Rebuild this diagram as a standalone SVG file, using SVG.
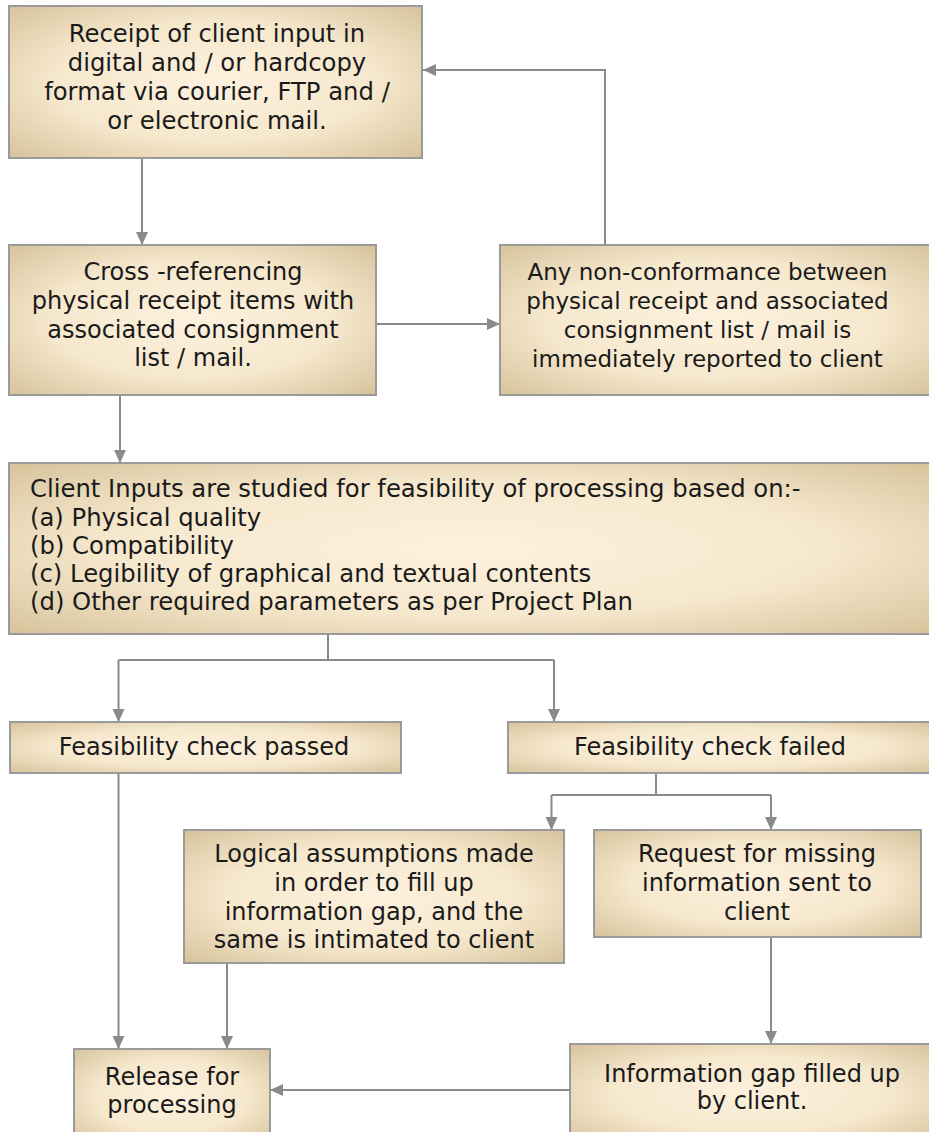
<svg xmlns="http://www.w3.org/2000/svg" width="929" height="1132" viewBox="0 0 929 1132">
<defs>
<radialGradient id="bg" cx="0.5" cy="0.5" r="0.7">
<stop offset="0" stop-color="#fdf1de"/>
<stop offset="0.55" stop-color="#f6e8cd"/>
<stop offset="1" stop-color="#d6c49c"/>
</radialGradient>
<marker id="ah" markerUnits="userSpaceOnUse" markerWidth="14" markerHeight="14" refX="13" refY="6" orient="auto">
<path d="M0,0 L13,6 L0,12 Z" fill="#8a8a8a"/>
</marker>
</defs>
<style>
.box{fill:url(#bg);stroke:#9a9a9a;stroke-width:2}
.t{font-family:"DejaVu Sans",Verdana,sans-serif;font-size:24px;fill:#1a1a1a}
.c{text-anchor:middle}
.ln{fill:none;stroke:#8a8a8a;stroke-width:2}
.ar{marker-end:url(#ah)}
</style>
<rect width="929" height="1132" fill="#fff"/>
<g id="connectors">
<path class="ln ar" d="M605,245 V70 H423"/>
<path class="ln ar" d="M142,158 V245"/>
<path class="ln ar" d="M376,324 H500"/>
<path class="ln ar" d="M120,395 V463"/>
<path class="ln" d="M328,634 V660 M118.5,660 H554"/>
<path class="ln ar" d="M118.5,660 V722"/>
<path class="ln ar" d="M554,660 V722"/>
<path class="ln" d="M656,773 V795 M551.5,795 H771"/>
<path class="ln ar" d="M551.5,795 V830"/>
<path class="ln ar" d="M771,795 V830"/>
<path class="ln ar" d="M118.5,773 V1049"/>
<path class="ln ar" d="M227,963 V1049"/>
<path class="ln ar" d="M771,937 V1044"/>
<path class="ln ar" d="M570,1090 H270"/>
</g>
<g id="n1">
<rect class="box" x="9" y="6" width="413" height="152"/>
<text class="t c" x="217" y="42" style="font-size:24.3px">Receipt of client input in</text>
<text class="t c" x="217" y="71" style="font-size:24.3px">digital and / or hardcopy</text>
<text class="t c" x="217" y="100" style="font-size:24.3px">format via courier, FTP and /</text>
<text class="t c" x="217" y="129" style="font-size:24.3px">or electronic mail.</text>
</g>
<g id="n2">
<rect class="box" x="9" y="245" width="367" height="150"/>
<text class="t c" x="193" y="280">Cross -referencing</text>
<text class="t c" x="193" y="309">physical receipt items with</text>
<text class="t c" x="193" y="338">associated consignment</text>
<text class="t c" x="193" y="366">list / mail.</text>
</g>
<g id="n3">
<rect class="box" x="500" y="245" width="432" height="150"/>
<text class="t c" x="707.5" y="280" style="font-size:23px">Any non-conformance between</text>
<text class="t c" x="707.5" y="309" style="font-size:23px">physical receipt and associated</text>
<text class="t c" x="707.5" y="338" style="font-size:23px">consignment list / mail is</text>
<text class="t c" x="707.5" y="367" style="font-size:23px">immediately reported to client</text>
</g>
<g id="n4">
<rect class="box" x="9" y="463" width="923" height="171"/>
<text class="t" x="30" y="497" style="font-size:24.3px">Client Inputs are studied for feasibility of processing based on:-</text>
<text class="t" x="30" y="526" style="font-size:24.3px">(a) Physical quality</text>
<text class="t" x="30" y="554" style="font-size:24.3px">(b) Compatibility</text>
<text class="t" x="30" y="582" style="font-size:24.3px">(c) Legibility of graphical and textual contents</text>
<text class="t" x="30" y="610" style="font-size:24.3px">(d) Other required parameters as per Project Plan</text>
</g>
<g id="n5">
<rect class="box" x="10" y="722" width="391" height="51"/>
<text class="t c" x="204" y="755">Feasibility check passed</text>
</g>
<g id="n6">
<rect class="box" x="508" y="722" width="424" height="51"/>
<text class="t c" x="710" y="755">Feasibility check failed</text>
</g>
<g id="n7">
<rect class="box" x="184" y="830" width="380" height="133"/>
<text class="t c" x="374" y="862">Logical assumptions made</text>
<text class="t c" x="374" y="891">in order to fill up</text>
<text class="t c" x="374" y="920">information gap, and the</text>
<text class="t c" x="374" y="948">same is intimated to client</text>
</g>
<g id="n8">
<rect class="box" x="594" y="830" width="327" height="107"/>
<text class="t c" x="757" y="862">Request for missing</text>
<text class="t c" x="757" y="891">information sent to</text>
<text class="t c" x="757" y="920">client</text>
</g>
<g id="n9">
<rect class="box" x="570" y="1044" width="362" height="100"/>
<text class="t c" x="752" y="1082">Information gap filled up</text>
<text class="t c" x="752" y="1109">by client.</text>
</g>
<g id="n10">
<rect class="box" x="74" y="1049" width="196" height="95"/>
<text class="t c" x="172" y="1085">Release for</text>
<text class="t c" x="172" y="1113">processing</text>
</g>
</svg>
